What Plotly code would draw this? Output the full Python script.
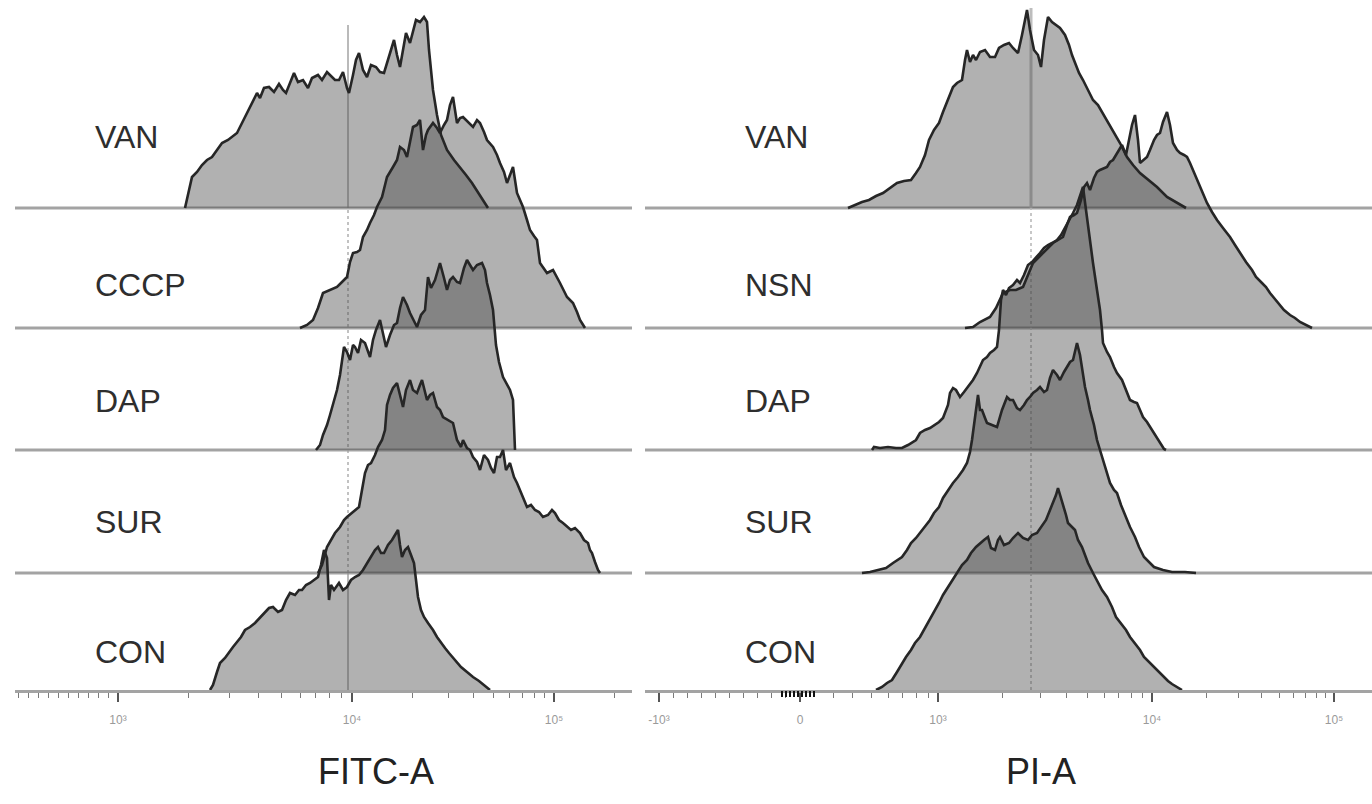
import plotly.graph_objects as go
import math

# ---------------- data (display channel, event count) ----------------
# FITC-A panel
FITC_VAN = [(170,0),(173,13),(177,31),(182,36),(187,43),(192,48),(197,51),(202,58),(207,65),(213,68),
            (218,72),(222,75),(227,85),(230,91),(235,100),(239,108),(242,115),(245,110),(249,120),(254,121),
            (259,116),(264,124),(268,118),(271,115),(275,126),(279,135),(283,126),(288,128),(293,120),(297,130),
            (303,133),(307,128),(312,136),(316,132),(320,128),(324,128),(328,136),(332,120),(334,115),(338,133),
            (341,148),(344,155),(348,138),(352,131),(356,143),(361,141),(365,136),(369,135),(373,148),(376,160),
            (379,168),(382,153),(385,141),(388,158),(391,175),(395,165),(398,178),(401,188),(405,186),(409,191),
            (412,186),(414,158),(418,118),(422,93),(426,73),(432,58),(439,48),(445,41),(451,33),(457,25),
            (463,16),(469,6),(473,0)]
FITC_CCCP = [(285,0),(292,3),(298,8),(303,20),(308,35),(315,38),(322,41),(327,46),(332,51),(335,66),
             (338,75),(342,76),(345,78),(348,91),(352,98),(355,105),(359,113),(362,121),(367,131),(370,143),
             (372,151),(378,161),(382,168),(385,181),(389,178),(392,171),(395,188),(398,201),(402,203),(405,208),
             (408,178),(411,193),(413,198),(418,205),(422,200),(425,195),(429,203),(432,208),(435,223),(438,231),
             (442,205),(445,210),(448,211),(453,206),(458,201),(462,208),(465,205),(469,196),(472,188),(478,181),
             (482,173),(485,165),(489,156),(492,145),(495,153),(498,161),(502,135),(508,121),(512,108),(515,98),
             (519,92),(522,88),(525,65),(532,55),(538,58),(542,51),(545,45),(552,31),(558,25),(562,16),
             (565,8),(570,0)]
FITC_DAP = [(301,0),(305,5),(308,15),(312,25),(315,35),(319,50),(322,60),(325,75),(327,90),(329,103),
            (332,98),(335,90),(338,105),(340,103),(343,97),(346,110),(350,107),(353,98),(355,93),(358,110),
            (361,120),(365,130),(368,118),(371,103),(375,115),(379,125),(382,127),(385,142),(388,153),(392,145),
            (395,137),(399,128),(402,123),(406,135),(410,140),(413,173),(416,162),(420,170),(425,187),(429,172),
            (432,160),(435,170),(438,173),(442,168),(445,167),(449,182),(452,190),(455,185),(458,180),(462,185),
            (467,187),(470,180),(472,167),(475,155),(478,140),(481,105),(484,88),(488,73),(492,65),(495,60),
            (498,50),(499,20),(500,0)]
FITC_SUR = [(303,0),(307,8),(312,26),(316,33),(320,40),(325,46),(329,53),(332,56),(337,60),(341,63),
            (344,66),(347,83),(350,100),(353,108),(356,110),(360,118),(363,126),(367,133),(370,143),(372,168),
            (375,178),(378,185),(382,190),(385,178),(388,166),(391,183),(395,193),(398,183),(402,180),(405,188),
            (407,193),(410,181),(412,173),(415,178),(418,180),(422,166),(425,163),(428,156),(433,153),(438,150),
            (442,133),(446,126),(448,133),(452,125),(455,123),(458,116),(462,111),(465,103),(469,118),(473,113),
            (476,105),(479,100),(482,116),(485,116),(488,123),(491,103),(495,110),(499,96),(502,90),(505,83),
            (509,73),(512,66),(516,68),(520,63),(524,61),(528,56),(533,58),(537,63),(540,60),(544,53),
            (548,50),(552,46),(556,43),(560,45),(565,40),(569,33),(573,30),(575,23),(577,20),(580,11),
            (583,3),(585,0)]
FITC_CON = [(195,0),(198,5),(202,18),(205,27),(210,32),(214,38),(218,43),(222,48),(226,53),(230,60),
            (235,63),(240,67),(245,72),(250,77),(254,82),(258,83),(263,78),(267,80),(271,90),(275,97),
            (280,95),(284,100),(287,100),(291,105),(295,107),(299,110),(303,113),(306,125),(309,140),(312,132),
            (314,90),(316,105),(319,100),(324,107),(328,100),(332,103),(336,110),(340,113),(344,115),(348,120),
            (352,127),(356,133),(360,140),(363,143),(366,137),(369,137),(373,145),(377,150),(380,155),(383,160),
            (385,145),(387,133),(390,140),(393,143),(396,135),(399,127),(401,110),(403,93),(406,80),(409,73),
            (413,67),(418,60),(422,53),(426,47),(430,42),(434,37),(440,30),(446,23),(452,18),(458,13),
            (464,9),(469,5),(475,0)]

# PI-A panel
PI_VAN = [(203,0),(210,3),(217,6),(224,8),(231,12),(238,15),(245,20),(252,25),(259,27),(266,28),
          (271,35),(275,41),(280,53),(284,68),(289,78),(294,85),(298,96),(303,108),(308,121),(312,125),
          (317,128),(320,148),(322,158),(325,146),(328,153),(331,148),(335,156),(340,158),(345,151),(350,151),
          (354,160),(359,163),(364,165),(368,160),(373,155),(377,173),(382,198),(385,178),(389,158),(393,153),
          (396,141),(399,168),(403,191),(407,186),(411,183),(415,180),(420,173),(424,163),(427,153),(431,143),
          (434,135),(438,128),(443,118),(448,108),(453,103),(462,88),(469,76),(475,65),(482,51),(488,43),
          (495,35),(503,28),(512,21),(522,11),(531,6),(541,0)]
PI_NSN = [(320,0),(328,1),(335,6),(345,11),(351,20),(358,35),(365,38),(371,38),(378,41),(383,53),
          (388,65),(393,70),(398,75),(403,80),(408,85),(413,88),(418,91),(422,103),(425,111),(429,113),
          (432,115),(436,128),(439,141),(442,145),(445,138),(449,150),(452,156),(455,158),(459,160),(462,161),
          (465,166),(468,168),(471,173),(474,178),(477,183),(481,173),(484,188),(487,203),(490,213),(493,188),
          (495,165),(498,168),(502,171),(505,178),(509,188),(512,193),(515,195),(518,206),(522,216),(525,203),
          (528,185),(532,178),(535,175),(539,173),(542,171),(545,165),(548,158),(552,148),(555,141),(559,133),
          (562,125),(567,116),(572,108),(578,100),(585,91),(590,83),(595,75),(601,66),(607,58),(611,51),
          (617,45),(621,41),(625,35),(631,28),(635,23),(639,18),(645,13),(650,10),(655,6),(661,3),(667,0)]
PI_DAP = [(227,0),(229,3),(235,2),(243,3),(251,2),(257,2),(263,5),(271,10),(275,17),(280,20),
          (285,22),(290,25),(294,28),(298,32),(303,45),(305,57),(308,62),(311,60),(315,53),(319,58),
          (322,62),(325,65),(328,70),(332,77),(335,83),(338,90),(342,93),(345,97),(349,100),(352,103),
          (354,120),(356,150),(358,160),(361,155),(364,162),(368,165),(372,170),(375,167),(379,175),(383,185),
          (387,188),(391,192),(395,197),(399,202),(403,205),(407,207),(412,210),(416,215),(420,222),(424,230),
          (428,237),(432,245),(435,255),(438,263),(441,240),(444,215),(448,187),(452,160),(455,140),(457,120),
          (458,107),(462,98),(465,93),(469,83),(472,77),(477,70),(481,60),(485,50),(489,48),(492,47),
          (495,40),(498,33),(502,28),(505,23),(510,15),(515,7),(519,1),(521,0)]
PI_SUR = [(217,0),(225,1),(233,3),(241,5),(248,10),(253,13),(257,16),(262,23),(266,30),(271,35),
          (275,40),(280,46),(285,53),(289,60),(294,66),(298,75),(303,83),(308,90),(313,96),(318,103),
          (322,110),(325,121),(327,133),(329,148),(331,163),(333,178),(335,163),(337,163),(340,155),(342,150),
          (347,148),(352,146),(357,163),(362,176),(365,173),(368,173),(372,165),(375,163),(379,168),(382,173),
          (385,176),(388,180),(392,183),(395,186),(399,181),(402,183),(405,195),(408,203),(412,198),(415,193),
          (419,201),(422,206),(425,211),(428,213),(430,223),(432,230),(435,218),(437,206),(440,186),(443,173),
          (445,163),(449,148),(452,133),(455,123),(458,113),(462,98),(465,90),(469,83),(472,80),(476,68),
          (481,56),(485,46),(490,36),(494,26),(499,16),(504,11),(509,6),(518,3),(527,1),(540,1),(551,0)]
PI_CON = [(231,0),(237,3),(242,7),(247,10),(252,18),(257,27),(261,33),(266,40),(270,47),(275,53),
          (280,62),(285,70),(289,78),(294,87),(298,95),(303,103),(308,112),(313,120),(317,125),(322,130),
          (326,137),(331,143),(335,147),(339,150),(343,153),(346,142),(350,140),(353,150),(355,153),(359,145),
          (364,147),(368,152),(373,157),(378,152),(383,150),(387,155),(392,157),(396,163),(401,170),(405,180),
          (408,187),(411,195),(413,202),(416,192),(418,187),(421,175),(423,167),(427,163),(430,160),(433,150),
          (437,143),(440,135),(443,127),(448,117),(453,107),(457,100),(462,93),(467,83),(471,73),(476,67),
          (481,60),(485,53),(490,47),(495,40),(499,33),(504,28),(509,23),(513,18),(518,13),(523,9),
          (527,6),(532,3),(537,0)]

FITC_LABELS = ["VAN", "CCCP", "DAP", "SUR", "CON"]
PI_LABELS = ["VAN", "NSN", "DAP", "SUR", "CON"]
FITC_SERIES = [FITC_VAN, FITC_CCCP, FITC_DAP, FITC_SUR, FITC_CON]
PI_SERIES = [PI_VAN, PI_NSN, PI_DAP, PI_SUR, PI_CON]

FITC_TICKS = [103, 337, 539]
FITC_TICKTEXT = ["10³", "10⁴", "10⁵"]
PI_TICKS = [14, 155, 293, 507, 689]
PI_TICKTEXT = ["-10³", "0", "10³", "10⁴", "10⁵"]
FITC_GATE = 333
PI_GATE = 386

# ---------------- layout constants ----------------
W, H = 1372, 804
PLOT_H = 690                      # height of plotting area (px)
LANE_OFFSETS = [482, 362, 240, 117, 0]
FITC_RANGE = [0, 617]
PI_RANGE = [0, 727]
FILL = "rgba(70,70,70,0.42)"
EDGE = "#262626"
BASE = "#a3a3a3"
FONT = "Liberation Sans, Arial, sans-serif"

fig = go.Figure()


def add_panel(series, xa):
    for s, off in zip(series, LANE_OFFSETS):
        xs = [p[0] for p in s]
        ys = [off + p[1] for p in s]
        fig.add_trace(go.Scatter(x=xs, y=ys, mode="lines", line=dict(width=0),
                                 fill="toself", fillcolor=FILL, xaxis=xa, yaxis="y",
                                 hoverinfo="skip", showlegend=False))
    for s, off in zip(series, LANE_OFFSETS):
        xs = [p[0] for p in s]
        ys = [off + p[1] for p in s]
        fig.add_trace(go.Scatter(x=xs, y=ys, mode="lines",
                                 line=dict(color=EDGE, width=2.6), xaxis=xa, yaxis="y",
                                 hoverinfo="skip", showlegend=False))


add_panel(FITC_SERIES, "x")
add_panel(PI_SERIES, "x2")
fig.add_trace(go.Scatter(x=[None], y=[None], xaxis="x3", yaxis="y", showlegend=False))

shapes = []
for off in LANE_OFFSETS[:-1]:
    shapes.append(dict(type="line", xref="x", yref="y", x0=FITC_RANGE[0], x1=FITC_RANGE[1],
                       y0=off, y1=off, line=dict(color=BASE, width=3), layer="below"))
    shapes.append(dict(type="line", xref="x2", yref="y", x0=PI_RANGE[0], x1=PI_RANGE[1],
                       y0=off, y1=off, line=dict(color=BASE, width=3), layer="below"))

# gate markers
shapes.append(dict(type="line", xref="x", yref="y", x0=FITC_GATE, x1=FITC_GATE, y0=LANE_OFFSETS[0], y1=665,
                   line=dict(color="#8c8c8c", width=1.2), layer="below"))
shapes.append(dict(type="line", xref="x", yref="y", x0=FITC_GATE, x1=FITC_GATE, y0=LANE_OFFSETS[3], y1=LANE_OFFSETS[0],
                   line=dict(color="#9a9a9a", width=1.2, dash="dot"), layer="below"))
shapes.append(dict(type="line", xref="x", yref="y", x0=FITC_GATE, x1=FITC_GATE, y0=0, y1=LANE_OFFSETS[3],
                   line=dict(color="#8c8c8c", width=1.2), layer="below"))
shapes.append(dict(type="line", xref="x2", yref="y", x0=PI_GATE, x1=PI_GATE, y0=LANE_OFFSETS[0], y1=682,
                   line=dict(color="#bdbdbd", width=3), layer="below"))
shapes.append(dict(type="line", xref="x2", yref="y", x0=PI_GATE, x1=PI_GATE, y0=0, y1=LANE_OFFSETS[0],
                   line=dict(color="#b5b5b5", width=1.5, dash="dot"), layer="below"))


def log_minor(a_lo, a_hi, limit):
    out = []
    for k in range(2, 10):
        v = a_lo + (a_hi - a_lo) * math.log10(k)
        if v < limit:
            out.append(v)
    return out


fitc_minor = [3 + 10 * i for i in range(10)]
fitc_minor += log_minor(FITC_TICKS[0], FITC_TICKS[1], 617)
fitc_minor += log_minor(FITC_TICKS[1], FITC_TICKS[2], 617)
fitc_minor += log_minor(FITC_TICKS[2], 2 * FITC_TICKS[2] - FITC_TICKS[1], 617)

pi_minor = [PI_TICKS[0] + 14 * i for i in range(1, 10)]
pi_minor += [188, 207, 226, 243, 257, 271, 283]
pi_minor += log_minor(PI_TICKS[2], PI_TICKS[3], 727)
pi_minor += log_minor(PI_TICKS[3], PI_TICKS[4], 727)
pi_minor += log_minor(PI_TICKS[4], 2 * PI_TICKS[4] - PI_TICKS[3], 727)

axis_common = dict(showgrid=False, zeroline=False, showline=True, linecolor=BASE, linewidth=3,
                   ticks="outside", ticklen=9, tickwidth=2, tickcolor="#555555",
                   tickfont=dict(size=12, color="#9a9a9a", family=FONT), ticklabelstandoff=8,
                   anchor="y", fixedrange=True)

fig.update_layout(
    width=W, height=H, margin=dict(l=0, r=0, t=0, b=H - PLOT_H),
    paper_bgcolor="white", plot_bgcolor="white", showlegend=False,
    xaxis=dict(domain=[15 / W, 632 / W], range=FITC_RANGE, tickmode="array", tickvals=FITC_TICKS,
               ticktext=FITC_TICKTEXT,
               minor=dict(ticks="outside", ticklen=5, tickwidth=1, tickcolor="#7a7a7a",
                          tickmode="array", tickvals=fitc_minor), **axis_common),
    xaxis2=dict(domain=[645 / W, 1.0], range=PI_RANGE, tickmode="array", tickvals=PI_TICKS,
                ticktext=PI_TICKTEXT,
                minor=dict(ticks="outside", ticklen=5, tickwidth=1, tickcolor="#7a7a7a",
                           tickmode="array", tickvals=pi_minor), **axis_common),
    xaxis3=dict(domain=[645 / W, 1.0], range=PI_RANGE, overlaying="x2", anchor="y",
                showgrid=False, zeroline=False, showline=False, showticklabels=False,
                ticks="outside", ticklen=6, tickwidth=2, tickcolor="#111111",
                tickmode="array", tickvals=[137, 141, 145, 149, 153, 157, 161, 165, 169], fixedrange=True),
    yaxis=dict(domain=[0, 1], range=[0, PLOT_H], visible=False, fixedrange=True),
    shapes=shapes,
)

LABEL_Y = [553, 405, 289, 168, 38]
ann = []
for txt, yv in zip(FITC_LABELS, LABEL_Y):
    ann.append(dict(text=txt, xref="paper", yref="y", x=93 / W, y=yv, xanchor="left", yanchor="middle",
                    showarrow=False, font=dict(size=32, color="#2e2e2e", family=FONT)))
for txt, yv in zip(PI_LABELS, LABEL_Y):
    ann.append(dict(text=txt, xref="paper", yref="y", x=743 / W, y=yv, xanchor="left", yanchor="middle",
                    showarrow=False, font=dict(size=32, color="#2e2e2e", family=FONT)))
ann.append(dict(text="FITC-A", xref="paper", yref="paper", x=376 / W, y=(PLOT_H - 772) / PLOT_H,
                xanchor="center", yanchor="middle", showarrow=False,
                font=dict(size=36, color="#222222", family=FONT)))
ann.append(dict(text="PI-A", xref="paper", yref="paper", x=1041 / W, y=(PLOT_H - 772) / PLOT_H,
                xanchor="center", yanchor="middle", showarrow=False,
                font=dict(size=36, color="#222222", family=FONT)))
fig.update_layout(annotations=ann)

fig.write_html("out.html", config={"displayModeBar": False, "staticPlot": True},
               post_script="document.body.style.margin='0px';")
